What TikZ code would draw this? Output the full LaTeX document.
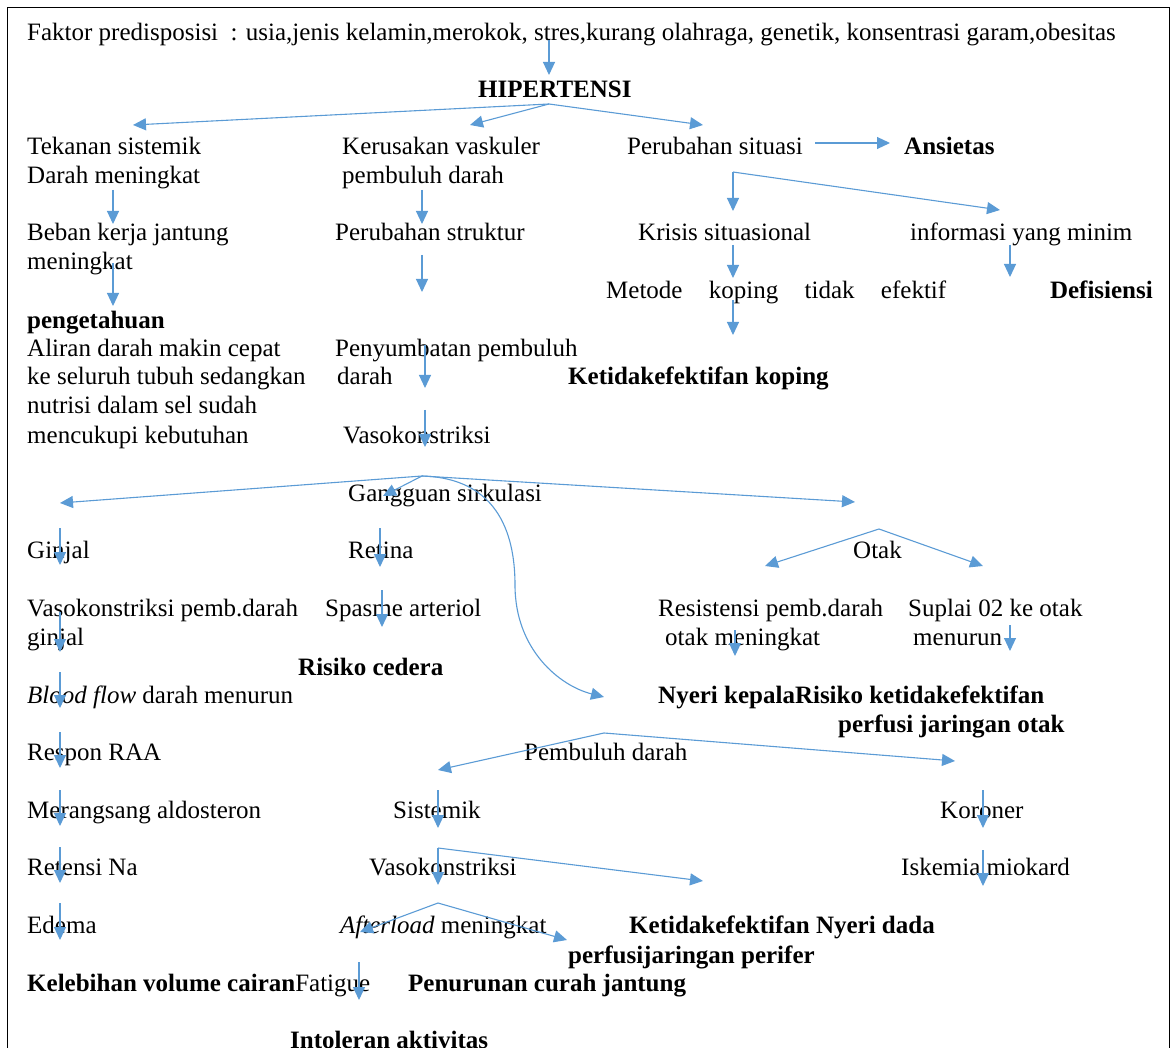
\documentclass[tikz,border=0pt]{standalone}
\usepackage{fontspec}
\setmainfont{Liberation Serif}
\usetikzlibrary{arrows.meta}
\definecolor{arrowblue}{HTML}{5B9BD5}
\begin{document}
\begin{tikzpicture}[x=1pt,y=1pt,
  txt/.style={anchor=base west, inner sep=0pt, font=\fontsize{25}{29}\selectfont},
  btxt/.style={txt, font=\fontsize{25}{29}\selectfont\bfseries},
  arr/.style={draw=arrowblue, line width=1.1pt, -{Triangle[length=13pt,width=12pt]}},
  ln/.style={draw=arrowblue, line width=1.1pt}]
\useasboundingbox (0,0) rectangle (1173,-1048);
\clip (0,0) rectangle (1173,-1048);
\draw[line width=1.6pt] (7.5,-1080) -- (7.5,-7.5) -- (1169.5,-7.5) -- (1169.5,-1080);

% ---- texts ----
\node[txt] (faktor) at (27,-41) {Faktor predisposisi \ : usia,jenis kelamin,merokok, stres,kurang olahraga, genetik, konsentrasi garam,obesitas};
\node[btxt] (hip) at (478,-98) {HIPERTENSI};
\node[txt] (tek1) at (27,-155) {Tekanan sistemik};
\node[txt] (tek2) at (27,-184) {Darah meningkat};
\node[txt] (ker1) at (342,-155) {Kerusakan vaskuler};
\node[txt] (ker2) at (342,-184) {pembuluh darah};
\node[txt] (perub) at (627,-155) {Perubahan situasi};
\node[btxt] (ansi) at (904,-155) {Ansietas};
\node[txt] (beban1) at (27,-241) {Beban kerja jantung};
\node[txt] (beban2) at (27,-270) {meningkat};
\node[txt] (pstr) at (335,-241) {Perubahan struktur};
\node[txt] (krisis) at (638,-241) {Krisis situasional};
\node[txt] (info) at (910,-241) {informasi yang minim};
\node[txt, text width=340pt] (metode) at (606,-299) {Metode\hfill koping\hfill tidak\hfill efektif};
\node[btxt, anchor=base east] (defis) at (1153,-299) {Defisiensi};
\node[btxt] (penget) at (27,-329) {pengetahuan};
\node[txt] (alir1) at (27,-357) {Aliran darah makin cepat};
\node[txt] (alir2) at (27,-385) {ke seluruh tubuh sedangkan};
\node[txt] (alir3) at (27,-414) {nutrisi dalam sel sudah};
\node[txt] (alir4) at (27,-443) {mencukupi kebutuhan};
\node[txt] (peny1) at (335,-357) {Penyumbatan pembuluh};
\node[txt] (peny2) at (337,-385) {darah};
\node[btxt] (ketkop) at (568,-385) {Ketidakefektifan koping};
\node[txt] (vaso1) at (343,-443) {Vasokonstriksi};
\node[txt] (gang) at (348,-501) {Gangguan sirkulasi};
\node[txt] (ginjal) at (27,-558) {Ginjal};
\node[txt] (retina) at (348,-558) {Retina};
\node[txt] (otak) at (853,-558) {Otak};
\node[txt] (vpg1) at (27,-616) {Vasokonstriksi pemb.darah};
\node[txt] (vpg2) at (27,-645) {ginjal};
\node[txt] (spasme) at (325,-616) {Spasme arteriol};
\node[txt] (resis1) at (658,-616) {Resistensi pemb.darah};
\node[txt] (resis2) at (665,-645) {otak meningkat};
\node[txt] (supl1) at (908,-616) {Suplai 02 ke otak};
\node[txt] (supl2) at (913,-645) {menurun};
\node[btxt] (cedera) at (298,-675) {Risiko cedera};
\node[txt] (blood) at (27,-703) {\textit{Blood flow} darah menurun};
\node[btxt] (nyeri1) at (658,-703) {Nyeri kepalaRisiko ketidakefektifan};
\node[btxt] (nyeri2) at (838,-732) {perfusi jaringan otak};
\node[txt] (raa) at (27,-760) {Respon RAA};
\node[txt] (pd) at (524,-760) {Pembuluh darah};
\node[txt] (aldo) at (27,-818) {Merangsang aldosteron};
\node[txt] (sist) at (393,-818) {Sistemik};
\node[txt] (koro) at (940,-818) {Koroner};
\node[txt] (reten) at (27,-875) {Retensi Na};
\node[txt] (vaso2) at (369,-875) {Vasokonstriksi};
\node[txt] (iske) at (901,-875) {Iskemia miokard};
\node[txt] (edema) at (27,-933) {Edema};
\node[txt] (after) at (340,-933) {\textit{Afterload} meningkat};
\node[btxt] (ketper1) at (629,-933) {Ketidakefektifan Nyeri dada};
\node[btxt] (ketper2) at (568,-963) {perfusijaringan perifer};
\node[txt] (kelfat) at (27,-991) {{\bfseries Kelebihan volume cairan}Fatigue};
\node[btxt] (curah) at (408,-991) {Penurunan curah jantung};
\node[btxt] (intol) at (290,-1048) {Intoleran aktivitas};

% ---- connector points ----
\coordinate (a1s) at (549,-40);   \coordinate (a1e) at (549,-75);
\coordinate (h0) at (549,-104);
\coordinate (hL) at (133,-125); \coordinate (hM) at (470,-125); \coordinate (hR) at (703,-125);
\coordinate (ans) at (815,-143); \coordinate (ane) at (890,-143);
\coordinate (t1s) at (113,-190); \coordinate (t1e) at (113,-224);
\coordinate (k1s) at (422,-190); \coordinate (k1e) at (422,-224);
\coordinate (p0) at (733,-172); \coordinate (p0e) at (733,-211); \coordinate (p0r) at (1000,-210);
\coordinate (b1s) at (113,-263); \coordinate (b1e) at (113,-306);
\coordinate (ps1s) at (422,-255); \coordinate (ps1e) at (422,-292);
\coordinate (kr1s) at (733,-245); \coordinate (kr1e) at (733,-278);
\coordinate (in1s) at (1010,-245); \coordinate (in1e) at (1010,-277);
\coordinate (me1s) at (733,-300); \coordinate (me1e) at (733,-335);
\coordinate (py1s) at (425,-345); \coordinate (py1e) at (425,-388);
\coordinate (py2s) at (425,-410); \coordinate (py2e) at (425,-447);
\coordinate (g0) at (422,-476);
\coordinate (gL) at (60,-503); \coordinate (gM) at (383,-496); \coordinate (gR) at (855,-502);
\coordinate (gC) at (515,-585); \coordinate (gCe) at (604,-697);
\coordinate (gi1s) at (60,-528); \coordinate (gi1e) at (60,-565);
\coordinate (re1s) at (380,-528); \coordinate (re1e) at (380,-567);
\coordinate (o0) at (879,-529); \coordinate (oL) at (765,-566); \coordinate (oR) at (983,-566);
\coordinate (vg1s) at (60,-612); \coordinate (vg1e) at (60,-652);
\coordinate (sp1s) at (382,-590); \coordinate (sp1e) at (382,-627);
\coordinate (rs1s) at (735,-630); \coordinate (rs1e) at (735,-656);
\coordinate (su1s) at (1010,-625); \coordinate (su1e) at (1010,-651);
\coordinate (bf1s) at (60,-672); \coordinate (bf1e) at (60,-708);
\coordinate (rr1s) at (60,-732); \coordinate (rr1e) at (60,-768);
\coordinate (pd0) at (604,-733); \coordinate (pdL) at (438,-770); \coordinate (pdR) at (955,-761);
\coordinate (al1s) at (60,-790); \coordinate (al1e) at (60,-826);
\coordinate (si1s) at (438,-790); \coordinate (si1e) at (438,-828);
\coordinate (ko1s) at (983,-790); \coordinate (ko1e) at (983,-828);
\coordinate (rn1s) at (60,-847); \coordinate (rn1e) at (60,-883);
\coordinate (s0) at (438,-848); \coordinate (s0e) at (438,-885); \coordinate (s0r) at (703,-881);
\coordinate (is1s) at (983,-850); \coordinate (is1e) at (983,-886);
\coordinate (ed1s) at (60,-903); \coordinate (ed1e) at (60,-940);
\coordinate (v0) at (438,-903); \coordinate (vL) at (360,-932); \coordinate (vR) at (567,-940);
\coordinate (fa1s) at (359,-962); \coordinate (fa1e) at (359,-1000);

% ---- connectors ----
\draw[arr] (a1s) -- (a1e);
\draw[arr] (h0) -- (hL);
\draw[arr] (h0) -- (hM);
\draw[arr] (h0) -- (hR);
\draw[arr] (ans) -- (ane);
\draw[arr] (t1s) -- (t1e);
\draw[arr] (k1s) -- (k1e);
\draw[arr] (p0) -- (p0e);
\draw[arr] (p0) -- (p0r);
\draw[arr] (b1s) -- (b1e);
\draw[arr] (ps1s) -- (ps1e);
\draw[arr] (kr1s) -- (kr1e);
\draw[arr] (in1s) -- (in1e);
\draw[arr] (me1s) -- (me1e);
\draw[arr] (py1s) -- (py1e);
\draw[arr] (py2s) -- (py2e);
\draw[arr] (g0) -- (gL);
\draw[arr] (g0) -- (gM);
\draw[arr] (g0) -- (gR);
\draw[arr] (g0) .. controls (495,-478) and (515,-530) .. (gC) .. controls (515,-650) and (560,-686) .. (gCe);
\draw[arr] (gi1s) -- (gi1e);
\draw[arr] (re1s) -- (re1e);
\draw[arr] (o0) -- (oL);
\draw[arr] (o0) -- (oR);
\draw[arr] (vg1s) -- (vg1e);
\draw[arr] (sp1s) -- (sp1e);
\draw[arr] (rs1s) -- (rs1e);
\draw[arr] (su1s) -- (su1e);
\draw[arr] (bf1s) -- (bf1e);
\draw[arr] (rr1s) -- (rr1e);
\draw[arr] (pd0) -- (pdL);
\draw[arr] (pd0) -- (pdR);
\draw[arr] (al1s) -- (al1e);
\draw[arr] (si1s) -- (si1e);
\draw[arr] (ko1s) -- (ko1e);
\draw[arr] (rn1s) -- (rn1e);
\draw[arr] (s0) -- (s0e);
\draw[arr] (s0) -- (s0r);
\draw[arr] (is1s) -- (is1e);
\draw[arr] (ed1s) -- (ed1e);
\draw[arr] (v0) -- (vL);
\draw[arr] (v0) -- (vR);
\draw[arr] (fa1s) -- (fa1e);
\end{tikzpicture}
\end{document}
